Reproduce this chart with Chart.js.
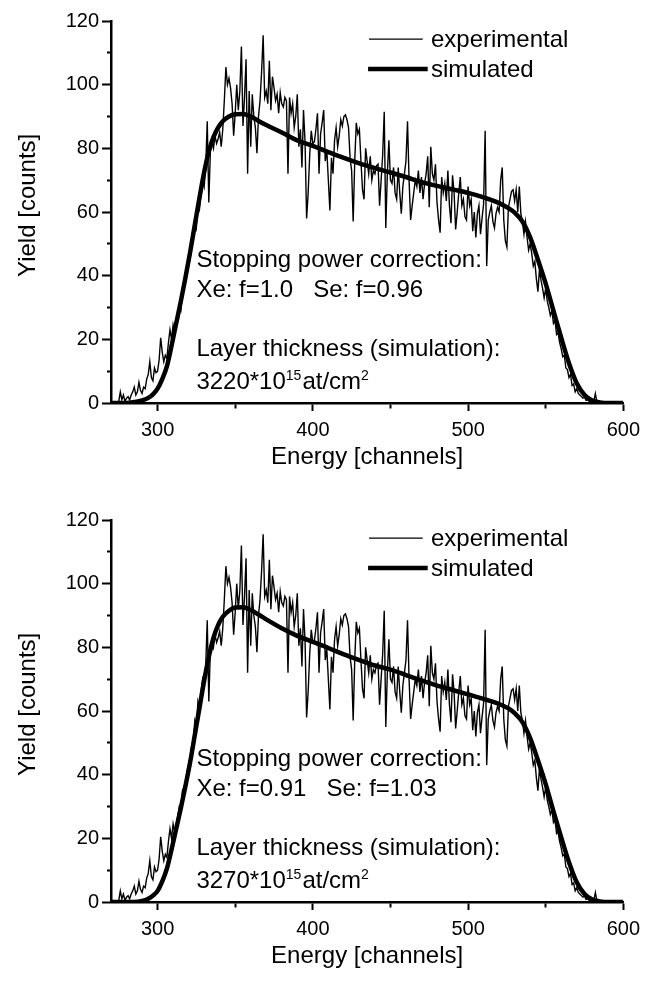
<!DOCTYPE html>
<html><head><meta charset="utf-8">
<script src="https://cdn.jsdelivr.net/npm/chart.js@4.4.0/dist/chart.umd.min.js"></script>
<style>
html,body{margin:0;padding:0;background:#fff;}
#wrap{position:relative;width:647px;height:986px;overflow:hidden;background:#fff;}
.box{position:absolute;left:0;width:647px;height:487px;}
#b1{top:0px} #b2{top:499px}
</style></head><body>
<div id="wrap">
  <div class="box" id="b1"><canvas id="c1" width="647" height="487"></canvas></div>
  <div class="box" id="b2"><canvas id="c2" width="647" height="487"></canvas></div>
</div>
<script>
// ---------- data ----------
const expStart = 274; // first channel of the measured spectrum (one value per channel)
const expCounts = [
  0, 0.5, 3.5, 1, 2.5, 0.5, 1.5, 2, 1, 2.5,
  3.5, 5, 2.5, 3.5, 6.5, 4, 3, 5, 4.5, 7.5,
  9, 13, 8, 7, 11, 9.5, 10, 13.5, 20.5, 16,
  13, 15, 14, 19, 23, 20, 24.5, 22, 24, 27,
  30, 29, 35, 36, 38, 41, 43, 45.5, 49, 51,
  57, 55, 63, 61, 66, 70, 68, 74, 88.5, 63,
  79, 82, 80, 84, 81.5, 83, 85, 80.5, 86, 95,
  105.5, 100, 102, 99, 94, 84, 91, 100, 92, 98,
  112, 87, 96, 108, 72, 98, 80.5, 97, 90, 86.5,
  78.5, 90, 95, 104, 115.5, 96, 98, 94, 107.5, 92,
  102.5, 99, 95, 97, 91, 97.5, 94, 93, 96, 95,
  72, 96, 91, 94, 86.5, 90, 97, 80.5, 86, 74,
  92, 82, 58, 66, 78, 85.5, 81.5, 82, 86, 91,
  72, 84.5, 88, 92, 76, 79.5, 70, 60.5, 77, 72,
  82.5, 86.5, 80.5, 84, 89, 87, 90, 90.5, 89, 86.5,
  77, 73, 57, 76, 88, 84.5, 86, 76, 67, 64,
  80, 76, 72, 77.5, 70, 73, 72, 74.5, 75, 62,
  70, 78, 91.5, 55, 72, 82.5, 70, 69, 74, 66,
  64, 74, 66, 59.5, 68, 72, 76, 88.5, 70, 57.5,
  62, 66, 70, 68, 73, 66, 71, 64, 69, 72,
  77.5, 61.5, 80.5, 72, 70, 75, 63, 57.5, 53.5, 71,
  66, 69, 63.5, 73, 62, 56.5, 71.5, 66, 54.5, 60,
  66, 71, 62, 64, 58.5, 57.5, 68, 62, 64, 54,
  60, 52, 59.5, 62, 53, 58, 62.5, 85.5, 43, 57.5,
  60, 62, 57, 55, 59.5, 61.5, 60, 70, 74, 57.5,
  51, 49, 61.5, 64, 66.5, 67, 63.5, 67, 60, 68,
  59.5, 57, 53, 57, 52, 48, 50, 47, 43, 44.5,
  39, 35, 42, 38.5, 36, 33, 36, 32, 30, 27.5,
  29, 25, 26, 21.5, 22, 19, 17, 14.5, 15, 11,
  10.5, 8, 9, 5.5, 6, 3.5, 4.5, 3, 2.5, 2,
  1.5, 1.8, 0.8, 1, 0.5, 0.7, 0.3, 0.5, 3, 0.3,
  0.2, 0, 0.3, 0, 0.2, 0, 0, 0.3, 0, 0.2,
  0, 0, 0.2, 0, 0, 0.2, 0
];
const simChannels = [270,280,285,290,294,297,300,303,306,309,312,315,318,321,324,327,330,333,336,339,342,346,350,355,360,365,370,380,390,400,410,420,430,440,450,460,470,480,490,500,510,520,526,530,535,540,545,550,555,560,565,570,575,580,585,590,600];
const simTop = [0,0,0.3,0.8,1.6,2.7,4.5,7.5,11.5,18,25,32,39.5,47.5,56,64.5,72.5,79,83.5,86.5,88.5,90,90.7,90.8,90,88.6,87.3,85,82.5,80.8,78.8,77,75.3,73.8,72.4,71,69.4,68.2,67.1,66,64.6,62.8,61.2,59.8,57,52,45,37.5,29,20.5,12.5,6.2,2.5,0.8,0.2,0,0];
const simBottom = [0,0,0,0.3,1,2,3.5,6.5,10.5,16.5,23,29.5,36.5,44,52.5,61,69.5,77,83,87,89.6,91.5,92.5,92.6,91.7,90.3,88.8,86,83.6,81.7,79.8,77.8,76,74.3,73,71.3,69.6,68,66.6,65.2,63.8,62.2,60.8,59.3,56.5,51.5,44.5,37,28.5,20.3,12.5,6.2,2.5,0.8,0.2,0,0];
const xTickValues = [300,350,400,450,500,550,600];
const yTickValues = [0,10,20,30,40,50,60,70,80,90,100,110,120];
const seriesLabels = ['experimental', 'simulated'];
const axisTitles = ['Energy [channels]', '  Yield [counts]'];
const notesTop = ['Stopping power correction:', 'Xe: f=1.0   Se: f=0.96', 'Layer thickness (simulation):', ['3220*10', '15', 'at/cm', '2']];
const notesBottom = ['Stopping power correction:', 'Xe: f=0.91   Se: f=1.03', 'Layer thickness (simulation):', ['3270*10', '15', 'at/cm', '2']];

// ---------- drawing ----------
const FONT = "'Liberation Sans', Arial, Helvetica, sans-serif";

const notesPlugin = {
  id: 'notes',
  afterDatasetsDraw(chart, args, o) {
    const ctx = chart.ctx, xs = chart.scales.x, ys = chart.scales.y;
    const px = v => xs.getPixelForValue(v), py = v => ys.getPixelForValue(v);
    const fontMain = o.size + 'px ' + FONT;
    ctx.save();
    ctx.fillStyle = '#000';
    ctx.strokeStyle = '#000';
    // legend
    chart.data.datasets.forEach((ds, i) => {
      const yy = py(o.legendY[i]);
      ctx.lineWidth = o.legendWidths[i];
      ctx.beginPath();
      ctx.moveTo(px(o.legendX[i][0]), yy);
      ctx.lineTo(px(o.legendX[i][1]), yy);
      ctx.stroke();
      ctx.font = fontMain;
      ctx.textAlign = 'left';
      ctx.textBaseline = 'middle';
      ctx.fillText(ds.label, px(o.legendTextX), yy + 1);
    });
    // annotation text
    ctx.textBaseline = 'alphabetic';
    o.lines.forEach((line, i) => {
      let x = px(o.noteX);
      const y = py(o.noteY[i]);
      const parts = Array.isArray(line) ? line : [line];
      parts.forEach((p, j) => {
        const sup = j % 2 === 1;
        ctx.font = sup ? (o.supSize + 'px ' + FONT) : fontMain;
        ctx.fillText(p, x, sup ? y - o.supRaise : y);
        x += ctx.measureText(p).width + (sup ? 1 : 0);
      });
    });
    ctx.restore();
  }
};

function makeChart(id, simValues, notes) {
  const expPts = expCounts.map((v, i) => ({x: expStart + i, y: v}));
  const simPts = simChannels.map((c, i) => ({x: c, y: simValues[i]}));
  return new Chart(document.getElementById(id), {
    type: 'line',
    data: {
      datasets: [
        {label: seriesLabels[0], data: expPts, borderColor: '#000', borderWidth: 1.4, pointRadius: 0, tension: 0, order: 1},
        {label: seriesLabels[1], data: simPts, borderColor: '#000', borderWidth: 4.5, pointRadius: 0, cubicInterpolationMode: 'monotone', order: 0}
      ]
    },
    options: {
      responsive: false,
      animation: false,
      layout: {padding: {top: 21, right: 20, left: 0, bottom: 0}},
      plugins: {
        legend: {display: false},
        tooltip: {enabled: false},
        notes: {
          size: 24, supSize: 14, supRaise: 9,
          lines: notes, noteX: 325, noteY: [42.7, 33.3, 14.8, 4.4],
          legendY: [114.3, 104.9], legendX: [[436.2, 470.8], [435.6, 474]],
          legendWidths: [1.2, 4.5], legendTextX: 476.1
        }
      },
      scales: {
        x: {
          type: 'linear', min: 270, max: 600,
          afterBuildTicks: s => { s.ticks = xTickValues.map(v => ({value: v})); },
          afterFit: s => { s.height = 84; },
          ticks: {autoSkip: false, maxRotation: 0, padding: 7, color: '#000',
            font: {family: FONT, size: 20},
            callback: v => (v % 100 === 0 ? String(v) : '')},
          grid: {display: true, drawOnChartArea: false, drawTicks: true, tickLength: 8,
            tickColor: '#000', tickWidth: 2,
            tickBorderDash: c => (c.tick && c.tick.value % 100 !== 0) ? [4, 100] : []},
          border: {display: true, color: '#000', width: 2.5},
          title: {display: true, text: axisTitles[0], color: '#000',
            font: {family: FONT, size: 24, lineHeight: 1.2}, padding: {top: 0, bottom: 15}}
        },
        y: {
          min: 0, max: 120,
          afterBuildTicks: s => { s.ticks = yTickValues.map(v => ({value: v})); },
          afterFit: s => { s.width = 111; },
          ticks: {autoSkip: false, padding: 3, color: '#000',
            font: {family: FONT, size: 20},
            callback: v => (v % 20 === 0 ? String(v) : '')},
          grid: {display: true, drawOnChartArea: false, drawTicks: true, tickLength: 9,
            tickColor: '#000', tickWidth: 2,
            tickBorderDash: c => (c.tick && c.tick.value % 20 !== 0) ? [0, 5, 5, 100] : []},
          border: {display: true, color: '#000', width: 2.5},
          title: {display: true, text: axisTitles[1], color: '#000',
            font: {family: FONT, size: 24, lineHeight: 1.2}, padding: {top: 14, bottom: 0}}
        }
      }
    },
    plugins: [notesPlugin]
  });
}

makeChart('c1', simTop, notesTop);
makeChart('c2', simBottom, notesBottom);
</script>
</body></html>
